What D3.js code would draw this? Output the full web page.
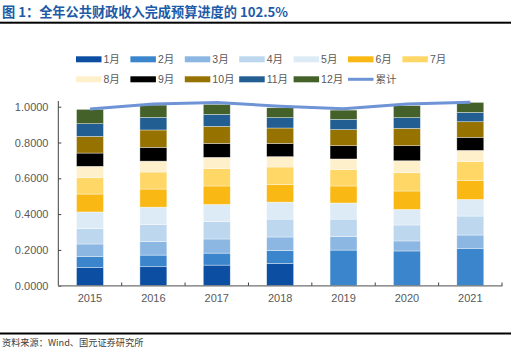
<!DOCTYPE html>
<html><head><meta charset="utf-8">
<script src="https://cdn.jsdelivr.net/npm/d3@7"></script>
<style>
html,body{margin:0;padding:0;background:#fff;}
svg{display:block;font-family:"Liberation Sans","Noto Sans CJK SC",sans-serif;}
</style></head>
<body>
<svg id="chart" width="516" height="357"></svg>
<script>
const years = ["2015","2016","2017","2018","2019","2020","2021"];
const months = ["1月","2月","3月","4月","5月","6月","7月","8月","9月","10月","11月","12月"];
// monthly share of annual budget, per year (rows = months)
const m1  = [0.101,0.106,0.115,0.125,0.000,0.000,0.000];
const m2  = [0.061,0.065,0.067,0.071,0.199,0.194,0.209];
const m3  = [0.071,0.075,0.079,0.076,0.075,0.056,0.074];
const m4  = [0.087,0.095,0.097,0.100,0.098,0.089,0.106];
const m5  = [0.092,0.098,0.096,0.095,0.090,0.087,0.093];
const m6  = [0.100,0.101,0.103,0.099,0.095,0.103,0.106];
const m7  = [0.091,0.095,0.097,0.097,0.091,0.102,0.105];
const m8  = [0.064,0.061,0.063,0.058,0.060,0.067,0.063];
const m9  = [0.074,0.077,0.078,0.074,0.074,0.084,0.073];
const m10 = [0.093,0.097,0.095,0.086,0.090,0.097,0.087];
const m11 = [0.071,0.070,0.067,0.058,0.057,0.060,0.052];
const m12 = [0.080,0.069,0.056,0.055,0.052,0.067,0.056];
const cumulative = [0.987,1.015,1.023,1.003,0.989,1.015,1.025];
const yTicks = [0,0.2,0.4,0.6,0.8,1.0];
const colors = ["#0b4ea2","#3a85cc","#8cb7e2","#bdd7ee","#ddebf7","#f9b814","#ffd766","#fff0cc","#000000","#967300","#235e93","#436128"];
const lineColor = "#6f94d6";

const monthVals = [m1,m2,m3,m4,m5,m6,m7,m8,m9,m10,m11,m12];
const table = years.map((y,i)=>{ const o={year:y}; months.forEach((m,k)=>o[m]=monthVals[k][i]); return o; });

const svg = d3.select("#chart");
const x = d3.scaleBand().domain(years).range([58.3,502]).padding(0);
const y = d3.scaleLinear().domain([0,1]).range([285.7,106.7]);
const barW = x.bandwidth()*0.425;

// title
svg.append("text").attr("x",2).attr("y",17).attr("fill","#1d5ba8")
  .attr("font-size",13.2).attr("font-weight","bold")
  .attr("font-family","'Noto Sans CJK SC','Liberation Sans',sans-serif")
  .text("图 1：全年公共财政收入完成预算进度的 102.5%");
svg.append("rect").attr("x",0).attr("y",21.7).attr("width",511).attr("height",2).attr("fill","#000");

// bars
const stack = d3.stack().keys(months)(table);
svg.append("g").selectAll("g").data(stack).join("g")
  .attr("fill",(d,i)=>colors[i])
  .selectAll("rect").data(d=>d).join("rect")
  .attr("x",d=>x(d.data.year)+x.bandwidth()/2-barW/2)
  .attr("width",barW)
  .attr("y",d=>y(d[1]))
  .attr("height",d=>Math.max(0,y(d[0])-y(d[1])))
  .attr("stroke","#ffffff").attr("stroke-opacity",0.6).attr("stroke-width",0.6);

// y axis
const ya = svg.append("g").attr("transform","translate(58.3,0)")
  .call(d3.axisRight(y).tickValues(yTicks).tickSize(3).tickFormat(""));
ya.select(".domain").remove();
ya.selectAll("line").attr("stroke","#404040");
svg.append("line").attr("x1",58.3).attr("x2",58.3).attr("y1",101).attr("y2",285.7).attr("stroke","#404040").attr("stroke-width",1);
svg.append("g").selectAll("text").data(yTicks).join("text")
  .attr("x",48.5).attr("y",d=>y(d)+4).attr("text-anchor","end")
  .attr("font-size",11).attr("fill","#595959").text(d3.format(".4f"));

// x axis
svg.append("line").attr("x1",58.3).attr("x2",502.5).attr("y1",285.9).attr("y2",285.9).attr("stroke","#707070").attr("stroke-width",1.3);
const bounds = years.map(d=>x(d)+x.bandwidth());
svg.append("g").selectAll("line").data(bounds).join("line")
  .attr("x1",d=>d).attr("x2",d=>d).attr("y1",282.5).attr("y2",285.7).attr("stroke","#404040");
svg.append("g").selectAll("text").data(years).join("text")
  .attr("x",d=>x(d)+x.bandwidth()/2).attr("y",302).attr("text-anchor","middle")
  .attr("font-size",11).attr("fill","#595959").text(d=>d);

// cumulative line
const line = d3.line().x((d,i)=>x(years[i])+x.bandwidth()/2).y(d=>y(d));
svg.append("path").datum(cumulative).attr("d",line).attr("fill","none")
  .attr("stroke",lineColor).attr("stroke-width",3).attr("stroke-linejoin","round");

// legend
const legItems = months.map((m,i)=>({name:m,color:colors[i],type:"rect"})).concat([{name:"累计",color:lineColor,type:"line"}]);
const lx0 = 76, lstep = 54.4;
const leg = svg.append("g").selectAll("g").data(legItems).join("g")
  .attr("transform",(d,i)=>`translate(${lx0+(i%7)*lstep},${i<7?59.3:79.3})`);
leg.filter(d=>d.type==="rect").append("rect").attr("x",0).attr("y",-3).attr("width",25.5).attr("height",6).attr("fill",d=>d.color);
leg.filter(d=>d.type==="line").append("line").attr("x1",0).attr("x2",25.5).attr("y1",0).attr("y2",0).attr("stroke",d=>d.color).attr("stroke-width",3);
leg.append("text").attr("x",27.5).attr("y",4).attr("font-size",10.5).attr("fill","#595959").text(d=>d.name);

// source
svg.append("rect").attr("x",0).attr("y",332.5).attr("width",511).attr("height",2).attr("fill","#000");
svg.append("text").attr("x",2).attr("y",345.5).attr("font-size",9.2).attr("fill","#404040")
  .attr("font-family","'Noto Sans CJK SC',sans-serif").text("资料来源：Wind、国元证券研究所");
</script>
</body></html>
